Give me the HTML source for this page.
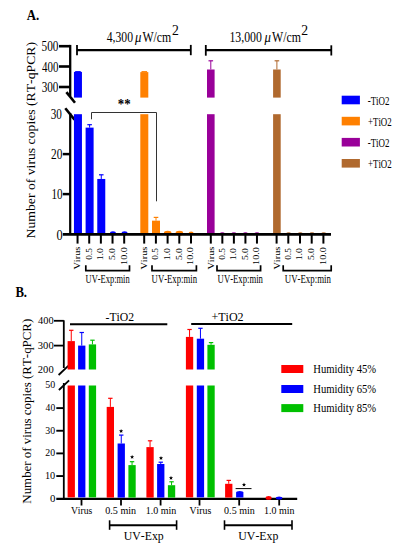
<!DOCTYPE html>
<html><head><meta charset="utf-8"><style>
html,body{margin:0;padding:0;background:#fff;width:399px;height:550px;overflow:hidden}
svg{display:block}
text{font-family:"Liberation Serif",serif;font-kerning:none}
</style></head><body>
<svg width="399" height="550" viewBox="0 0 399 550">
<rect width="399" height="550" fill="#fff"/>
<text transform="translate(26.67 19.50) scale(0.8984 1.0000)" font-size="14.30" font-weight="bold" fill="#000">A.</text>
<line x1="70.20" y1="44.90" x2="70.20" y2="96.00" stroke="#000" stroke-width="2.30" stroke-linecap="butt"/>
<line x1="70.20" y1="113.00" x2="70.20" y2="235.00" stroke="#000" stroke-width="2.20" stroke-linecap="butt"/>
<line x1="59.00" y1="46.20" x2="70.20" y2="46.20" stroke="#000" stroke-width="2.60" stroke-linecap="butt"/>
<text transform="translate(41.55 51.40) scale(0.8276 1.0000)" font-size="13.60" fill="#000">500</text>
<line x1="59.00" y1="66.50" x2="70.20" y2="66.50" stroke="#000" stroke-width="2.60" stroke-linecap="butt"/>
<text transform="translate(41.99 71.70) scale(0.8054 1.0000)" font-size="13.60" fill="#000">400</text>
<line x1="59.00" y1="87.00" x2="70.20" y2="87.00" stroke="#000" stroke-width="2.60" stroke-linecap="butt"/>
<text transform="translate(41.67 92.20) scale(0.8216 1.0000)" font-size="13.60" fill="#000">300</text>
<line x1="62.80" y1="154.10" x2="70.20" y2="154.10" stroke="#000" stroke-width="2.50" stroke-linecap="butt"/>
<line x1="62.80" y1="194.10" x2="70.20" y2="194.10" stroke="#000" stroke-width="2.50" stroke-linecap="butt"/>
<text transform="translate(50.77 119.10) scale(0.8205 1.0000)" font-size="13.60" fill="#000">30</text>
<text transform="translate(51.10 159.20) scale(0.8330 1.0000)" font-size="13.60" fill="#000">20</text>
<text transform="translate(51.52 199.20) scale(0.8160 1.0000)" font-size="13.60" fill="#000">10</text>
<text transform="translate(56.53 239.50) scale(0.9021 1.0000)" font-size="13.60" fill="#000">0</text>
<line x1="66.40" y1="92.10" x2="75.00" y2="102.70" stroke="#000" stroke-width="2.60" stroke-linecap="butt"/>
<line x1="65.30" y1="108.20" x2="74.50" y2="119.60" stroke="#000" stroke-width="2.60" stroke-linecap="butt"/>
<rect x="73.95" y="114.20" width="8.00" height="119.00" fill="#0000ff"/>
<rect x="85.61" y="127.63" width="8.00" height="105.57" fill="#0000ff"/>
<line x1="89.61" y1="124.70" x2="89.61" y2="127.63" stroke="#0000ff" stroke-width="1.00" stroke-linecap="butt"/>
<line x1="87.31" y1="124.70" x2="91.91" y2="124.70" stroke="#0000ff" stroke-width="1.20" stroke-linecap="butt"/>
<rect x="97.27" y="178.96" width="8.00" height="54.24" fill="#0000ff"/>
<line x1="101.27" y1="174.80" x2="101.27" y2="178.96" stroke="#0000ff" stroke-width="1.00" stroke-linecap="butt"/>
<line x1="98.97" y1="174.80" x2="103.57" y2="174.80" stroke="#0000ff" stroke-width="1.20" stroke-linecap="butt"/>
<ellipse cx="112.93" cy="233.20" rx="3.00" ry="2.00" fill="#0000ff"/>
<ellipse cx="124.59" cy="233.20" rx="3.00" ry="2.00" fill="#0000ff"/>
<rect x="140.30" y="114.20" width="8.00" height="119.00" fill="#ff8000"/>
<rect x="152.00" y="220.67" width="8.00" height="12.53" fill="#ff8000"/>
<line x1="156.00" y1="217.40" x2="156.00" y2="220.67" stroke="#ff8000" stroke-width="1.00" stroke-linecap="butt"/>
<line x1="153.70" y1="217.40" x2="158.30" y2="217.40" stroke="#ff8000" stroke-width="1.20" stroke-linecap="butt"/>
<ellipse cx="167.70" cy="233.20" rx="3.80" ry="2.40" fill="#ff8000"/>
<ellipse cx="179.40" cy="233.20" rx="3.80" ry="2.40" fill="#ff8000"/>
<ellipse cx="191.10" cy="233.20" rx="2.50" ry="1.60" fill="#ff8000"/>
<rect x="207.00" y="114.20" width="7.60" height="119.00" fill="#990099"/>
<ellipse cx="222.34" cy="233.20" rx="2.30" ry="1.00" fill="#990099"/>
<ellipse cx="233.88" cy="233.20" rx="2.30" ry="1.00" fill="#990099"/>
<ellipse cx="245.42" cy="233.20" rx="2.30" ry="1.00" fill="#990099"/>
<ellipse cx="256.96" cy="233.20" rx="2.30" ry="1.00" fill="#990099"/>
<rect x="273.10" y="114.20" width="7.60" height="119.00" fill="#b0692e"/>
<ellipse cx="288.60" cy="233.20" rx="2.30" ry="1.00" fill="#b0692e"/>
<ellipse cx="300.30" cy="233.20" rx="2.30" ry="1.00" fill="#b0692e"/>
<ellipse cx="312.00" cy="233.20" rx="2.30" ry="1.00" fill="#b0692e"/>
<ellipse cx="323.70" cy="233.20" rx="2.30" ry="1.00" fill="#b0692e"/>
<rect x="73.95" y="71.90" width="8.00" height="25.70" fill="#0000ff"/>
<rect x="75.15" y="71.10" width="5.60" height="1.20" fill="#0000ff"/>
<rect x="140.30" y="72.10" width="8.00" height="25.50" fill="#ff8000"/>
<rect x="141.50" y="71.10" width="5.60" height="1.20" fill="#ff8000"/>
<rect x="207.00" y="69.50" width="7.60" height="28.10" fill="#990099"/>
<line x1="210.80" y1="60.80" x2="210.80" y2="69.50" stroke="#990099" stroke-width="1.00" stroke-linecap="butt"/>
<line x1="208.50" y1="60.80" x2="213.10" y2="60.80" stroke="#990099" stroke-width="1.20" stroke-linecap="butt"/>
<rect x="273.10" y="69.50" width="7.60" height="28.10" fill="#b0692e"/>
<line x1="276.90" y1="60.80" x2="276.90" y2="69.50" stroke="#b0692e" stroke-width="1.00" stroke-linecap="butt"/>
<line x1="274.60" y1="60.80" x2="279.20" y2="60.80" stroke="#b0692e" stroke-width="1.20" stroke-linecap="butt"/>
<line x1="62.80" y1="234.30" x2="331.00" y2="234.30" stroke="#000" stroke-width="2.80" stroke-linecap="butt"/>
<line x1="77.55" y1="235.00" x2="77.55" y2="243.60" stroke="#000" stroke-width="2.00" stroke-linecap="butt"/>
<line x1="89.21" y1="235.00" x2="89.21" y2="243.60" stroke="#000" stroke-width="2.00" stroke-linecap="butt"/>
<line x1="100.87" y1="235.00" x2="100.87" y2="243.60" stroke="#000" stroke-width="2.00" stroke-linecap="butt"/>
<line x1="112.53" y1="235.00" x2="112.53" y2="243.60" stroke="#000" stroke-width="2.00" stroke-linecap="butt"/>
<line x1="124.19" y1="235.00" x2="124.19" y2="243.60" stroke="#000" stroke-width="2.00" stroke-linecap="butt"/>
<line x1="144.20" y1="235.00" x2="144.20" y2="243.60" stroke="#000" stroke-width="2.00" stroke-linecap="butt"/>
<line x1="155.90" y1="235.00" x2="155.90" y2="243.60" stroke="#000" stroke-width="2.00" stroke-linecap="butt"/>
<line x1="167.60" y1="235.00" x2="167.60" y2="243.60" stroke="#000" stroke-width="2.00" stroke-linecap="butt"/>
<line x1="179.30" y1="235.00" x2="179.30" y2="243.60" stroke="#000" stroke-width="2.00" stroke-linecap="butt"/>
<line x1="191.00" y1="235.00" x2="191.00" y2="243.60" stroke="#000" stroke-width="2.00" stroke-linecap="butt"/>
<line x1="210.80" y1="235.00" x2="210.80" y2="243.60" stroke="#000" stroke-width="2.00" stroke-linecap="butt"/>
<line x1="222.34" y1="235.00" x2="222.34" y2="243.60" stroke="#000" stroke-width="2.00" stroke-linecap="butt"/>
<line x1="233.88" y1="235.00" x2="233.88" y2="243.60" stroke="#000" stroke-width="2.00" stroke-linecap="butt"/>
<line x1="245.42" y1="235.00" x2="245.42" y2="243.60" stroke="#000" stroke-width="2.00" stroke-linecap="butt"/>
<line x1="256.96" y1="235.00" x2="256.96" y2="243.60" stroke="#000" stroke-width="2.00" stroke-linecap="butt"/>
<line x1="276.60" y1="235.00" x2="276.60" y2="243.60" stroke="#000" stroke-width="2.00" stroke-linecap="butt"/>
<line x1="288.30" y1="235.00" x2="288.30" y2="243.60" stroke="#000" stroke-width="2.00" stroke-linecap="butt"/>
<line x1="300.00" y1="235.00" x2="300.00" y2="243.60" stroke="#000" stroke-width="2.00" stroke-linecap="butt"/>
<line x1="311.70" y1="235.00" x2="311.70" y2="243.60" stroke="#000" stroke-width="2.00" stroke-linecap="butt"/>
<line x1="323.40" y1="235.00" x2="323.40" y2="243.60" stroke="#000" stroke-width="2.00" stroke-linecap="butt"/>
<text transform="translate(80.45 269.62) rotate(-90) scale(1.0143 0.8000)" font-size="10.20" fill="#000">Virus</text>
<text transform="translate(91.61 259.86) rotate(-90) scale(0.9195 0.8000)" font-size="10.20" fill="#000">0.5</text>
<text transform="translate(103.27 260.36) rotate(-90) scale(0.9594 0.8000)" font-size="10.20" fill="#000">1.0</text>
<text transform="translate(114.93 260.05) rotate(-90) scale(0.9347 0.8000)" font-size="10.20" fill="#000">5.0</text>
<text transform="translate(126.59 264.89) rotate(-90) scale(0.9961 0.8000)" font-size="10.20" fill="#000">10.0</text>
<text transform="translate(147.10 269.62) rotate(-90) scale(1.0143 0.8000)" font-size="10.20" fill="#000">Virus</text>
<text transform="translate(158.30 259.86) rotate(-90) scale(0.9195 0.8000)" font-size="10.20" fill="#000">0.5</text>
<text transform="translate(170.00 260.36) rotate(-90) scale(0.9594 0.8000)" font-size="10.20" fill="#000">1.0</text>
<text transform="translate(181.70 260.05) rotate(-90) scale(0.9347 0.8000)" font-size="10.20" fill="#000">5.0</text>
<text transform="translate(193.40 264.89) rotate(-90) scale(0.9961 0.8000)" font-size="10.20" fill="#000">10.0</text>
<text transform="translate(213.70 269.62) rotate(-90) scale(1.0143 0.8000)" font-size="10.20" fill="#000">Virus</text>
<text transform="translate(224.74 259.86) rotate(-90) scale(0.9195 0.8000)" font-size="10.20" fill="#000">0.5</text>
<text transform="translate(236.28 260.36) rotate(-90) scale(0.9594 0.8000)" font-size="10.20" fill="#000">1.0</text>
<text transform="translate(247.82 260.05) rotate(-90) scale(0.9347 0.8000)" font-size="10.20" fill="#000">5.0</text>
<text transform="translate(259.36 264.89) rotate(-90) scale(0.9961 0.8000)" font-size="10.20" fill="#000">10.0</text>
<text transform="translate(279.50 269.62) rotate(-90) scale(1.0143 0.8000)" font-size="10.20" fill="#000">Virus</text>
<text transform="translate(290.70 259.86) rotate(-90) scale(0.9195 0.8000)" font-size="10.20" fill="#000">0.5</text>
<text transform="translate(302.40 260.36) rotate(-90) scale(0.9594 0.8000)" font-size="10.20" fill="#000">1.0</text>
<text transform="translate(314.10 260.05) rotate(-90) scale(0.9347 0.8000)" font-size="10.20" fill="#000">5.0</text>
<text transform="translate(325.80 264.89) rotate(-90) scale(0.9961 0.8000)" font-size="10.20" fill="#000">10.0</text>
<path d="M85.80 265.2 V270.6 H129.50 V265.2" fill="none" stroke="#000" stroke-width="1.7"/>
<text transform="translate(85.52 282.80) scale(0.7055 1.0000)" font-size="12.00" fill="#000">UV-Exp:min</text>
<path d="M152.00 265.2 V270.6 H196.40 V265.2" fill="none" stroke="#000" stroke-width="1.7"/>
<text transform="translate(151.62 282.80) scale(0.7248 1.0000)" font-size="12.00" fill="#000">UV-Exp:min</text>
<path d="M217.00 265.2 V270.6 H260.60 V265.2" fill="none" stroke="#000" stroke-width="1.7"/>
<text transform="translate(217.62 282.80) scale(0.7232 1.0000)" font-size="12.00" fill="#000">UV-Exp:min</text>
<path d="M283.20 265.2 V270.6 H331.20 V265.2" fill="none" stroke="#000" stroke-width="1.7"/>
<text transform="translate(284.81 282.80) scale(0.7360 1.0000)" font-size="12.00" fill="#000">UV-Exp:min</text>
<path d="M91.5 119.3 V112.5 H156.5 V201.3" fill="none" stroke="#333" stroke-width="1"/>
<text transform="translate(117.77 108.60) scale(0.8579 1.0000)" font-size="15.00" font-weight="bold" fill="#000">**</text>
<line x1="77.00" y1="50.10" x2="191.00" y2="50.10" stroke="#000" stroke-width="2.30" stroke-linecap="butt"/>
<line x1="77.00" y1="44.90" x2="77.00" y2="55.30" stroke="#000" stroke-width="1.80" stroke-linecap="butt"/>
<line x1="190.80" y1="44.90" x2="190.80" y2="55.20" stroke="#000" stroke-width="1.80" stroke-linecap="butt"/>
<line x1="205.80" y1="50.10" x2="331.50" y2="50.10" stroke="#000" stroke-width="2.30" stroke-linecap="butt"/>
<line x1="205.80" y1="45.00" x2="205.80" y2="55.70" stroke="#000" stroke-width="1.80" stroke-linecap="butt"/>
<line x1="331.30" y1="45.30" x2="331.30" y2="55.50" stroke="#000" stroke-width="1.80" stroke-linecap="butt"/>
<text transform="translate(106.77 41.60) scale(0.8586 1.0000)" font-size="13.60" fill="#000">4,300</text>
<text transform="translate(135.01 41.60) scale(0.9392 1.0000)" font-size="13.60" font-style="italic" fill="#000">μ</text>
<text transform="translate(142.39 41.60) scale(0.8696 1.0000)" font-size="13.60" fill="#000">W/cm</text>
<text transform="translate(171.90 34.60) scale(1.0088 1.0000)" font-size="13.60" fill="#000">2</text>
<text transform="translate(229.46 41.80) scale(0.8687 1.0000)" font-size="13.60" fill="#000">13,000</text>
<text transform="translate(264.61 41.80) scale(0.9392 1.0000)" font-size="13.60" font-style="italic" fill="#000">μ</text>
<text transform="translate(271.99 41.80) scale(0.8696 1.0000)" font-size="13.60" fill="#000">W/cm</text>
<text transform="translate(301.20 34.70) scale(1.0088 1.0000)" font-size="13.60" fill="#000">2</text>
<text transform="translate(34.90 238.39) rotate(-90) scale(1.0082 0.8500)" font-size="13.60" fill="#000">Number of virus copies (RT-qPCR)</text>
<rect x="341.70" y="95.70" width="18.20" height="8.60" fill="#0000ff"/>
<text transform="translate(367.67 104.70) scale(0.7442 1.0000)" font-size="12.00" fill="#000">-TiO2</text>
<rect x="341.70" y="116.80" width="18.20" height="8.60" fill="#ff8000"/>
<text transform="translate(367.96 125.80) scale(0.7394 1.0000)" font-size="12.00" fill="#000">+TiO2</text>
<rect x="341.70" y="137.90" width="18.20" height="8.60" fill="#990099"/>
<text transform="translate(367.67 146.90) scale(0.7442 1.0000)" font-size="12.00" fill="#000">-TiO2</text>
<rect x="341.70" y="159.00" width="18.20" height="8.60" fill="#b0692e"/>
<text transform="translate(367.96 168.00) scale(0.7394 1.0000)" font-size="12.00" fill="#000">+TiO2</text>
<text transform="translate(15.39 297.00) scale(0.9358 1.0000)" font-size="13.60" font-weight="bold" fill="#000">B.</text>
<line x1="63.80" y1="320.30" x2="63.80" y2="368.00" stroke="#000" stroke-width="1.80" stroke-linecap="butt"/>
<line x1="63.80" y1="383.00" x2="63.80" y2="499.00" stroke="#000" stroke-width="1.80" stroke-linecap="butt"/>
<line x1="54.00" y1="320.80" x2="63.80" y2="320.80" stroke="#000" stroke-width="1.80" stroke-linecap="butt"/>
<line x1="54.00" y1="345.60" x2="63.80" y2="345.60" stroke="#000" stroke-width="1.80" stroke-linecap="butt"/>
<text transform="translate(38.10 323.70) scale(1.1182 1.0000)" font-size="9.30" fill="#000">400</text>
<text transform="translate(37.79 348.50) scale(1.1406 1.0000)" font-size="9.30" fill="#000">300</text>
<text transform="translate(37.84 373.10) scale(1.1375 1.0000)" font-size="9.30" fill="#000">200</text>
<line x1="56.30" y1="408.10" x2="63.80" y2="408.10" stroke="#000" stroke-width="1.90" stroke-linecap="butt"/>
<line x1="56.30" y1="430.75" x2="63.80" y2="430.75" stroke="#000" stroke-width="1.90" stroke-linecap="butt"/>
<line x1="56.30" y1="453.40" x2="63.80" y2="453.40" stroke="#000" stroke-width="1.90" stroke-linecap="butt"/>
<line x1="56.30" y1="476.05" x2="63.80" y2="476.05" stroke="#000" stroke-width="1.90" stroke-linecap="butt"/>
<text transform="translate(45.22 387.75) scale(1.0707 1.0000)" font-size="9.30" fill="#000">50</text>
<text transform="translate(45.61 410.90) scale(1.0269 1.0000)" font-size="9.30" fill="#000">40</text>
<text transform="translate(45.33 433.55) scale(1.0587 1.0000)" font-size="9.30" fill="#000">30</text>
<text transform="translate(45.37 456.20) scale(1.0542 1.0000)" font-size="9.30" fill="#000">20</text>
<text transform="translate(44.89 478.85) scale(1.1072 1.0000)" font-size="9.30" fill="#000">10</text>
<text transform="translate(49.99 501.60) scale(1.1670 1.0000)" font-size="9.30" fill="#000">0</text>
<line x1="58.60" y1="375.00" x2="68.80" y2="365.30" stroke="#000" stroke-width="1.80" stroke-linecap="butt"/>
<line x1="58.90" y1="390.00" x2="69.10" y2="380.30" stroke="#000" stroke-width="1.80" stroke-linecap="butt"/>
<line x1="56.30" y1="498.90" x2="297.20" y2="498.90" stroke="#000" stroke-width="2.40" stroke-linecap="butt"/>
<line x1="81.50" y1="499.50" x2="81.50" y2="505.50" stroke="#000" stroke-width="1.80" stroke-linecap="butt"/>
<line x1="121.00" y1="499.50" x2="121.00" y2="505.50" stroke="#000" stroke-width="1.80" stroke-linecap="butt"/>
<line x1="160.60" y1="499.50" x2="160.60" y2="505.50" stroke="#000" stroke-width="1.80" stroke-linecap="butt"/>
<line x1="199.50" y1="499.50" x2="199.50" y2="505.50" stroke="#000" stroke-width="1.80" stroke-linecap="butt"/>
<line x1="239.20" y1="499.50" x2="239.20" y2="505.50" stroke="#000" stroke-width="1.80" stroke-linecap="butt"/>
<line x1="279.20" y1="499.50" x2="279.20" y2="505.50" stroke="#000" stroke-width="1.80" stroke-linecap="butt"/>
<rect x="67.60" y="341.10" width="7.30" height="28.40" fill="#ff0000"/>
<line x1="71.25" y1="330.30" x2="71.25" y2="341.10" stroke="#ff0000" stroke-width="1.00" stroke-linecap="butt"/>
<line x1="69.05" y1="330.30" x2="73.45" y2="330.30" stroke="#ff0000" stroke-width="1.20" stroke-linecap="butt"/>
<rect x="67.60" y="385.50" width="7.30" height="111.90" fill="#ff0000"/>
<rect x="78.10" y="345.60" width="7.30" height="23.90" fill="#0000ff"/>
<line x1="81.75" y1="332.50" x2="81.75" y2="345.60" stroke="#0000ff" stroke-width="1.00" stroke-linecap="butt"/>
<line x1="79.55" y1="332.50" x2="83.95" y2="332.50" stroke="#0000ff" stroke-width="1.20" stroke-linecap="butt"/>
<rect x="78.10" y="385.50" width="7.30" height="111.90" fill="#0000ff"/>
<rect x="88.80" y="344.40" width="7.30" height="25.10" fill="#00c000"/>
<line x1="92.45" y1="340.20" x2="92.45" y2="344.40" stroke="#00c000" stroke-width="1.00" stroke-linecap="butt"/>
<line x1="90.25" y1="340.20" x2="94.65" y2="340.20" stroke="#00c000" stroke-width="1.20" stroke-linecap="butt"/>
<rect x="88.80" y="385.50" width="7.30" height="111.90" fill="#00c000"/>
<rect x="185.90" y="336.90" width="7.30" height="32.60" fill="#ff0000"/>
<line x1="189.55" y1="329.50" x2="189.55" y2="336.90" stroke="#ff0000" stroke-width="1.00" stroke-linecap="butt"/>
<line x1="187.35" y1="329.50" x2="191.75" y2="329.50" stroke="#ff0000" stroke-width="1.20" stroke-linecap="butt"/>
<rect x="185.90" y="385.50" width="7.30" height="111.90" fill="#ff0000"/>
<rect x="196.80" y="338.70" width="7.30" height="30.80" fill="#0000ff"/>
<line x1="200.45" y1="328.30" x2="200.45" y2="338.70" stroke="#0000ff" stroke-width="1.00" stroke-linecap="butt"/>
<line x1="198.25" y1="328.30" x2="202.65" y2="328.30" stroke="#0000ff" stroke-width="1.20" stroke-linecap="butt"/>
<rect x="196.80" y="385.50" width="7.30" height="111.90" fill="#0000ff"/>
<rect x="207.40" y="344.80" width="7.30" height="24.70" fill="#00c000"/>
<line x1="211.05" y1="342.60" x2="211.05" y2="344.80" stroke="#00c000" stroke-width="1.00" stroke-linecap="butt"/>
<line x1="208.85" y1="342.60" x2="213.25" y2="342.60" stroke="#00c000" stroke-width="1.20" stroke-linecap="butt"/>
<rect x="207.40" y="385.50" width="7.30" height="111.90" fill="#00c000"/>
<rect x="106.70" y="406.90" width="7.30" height="90.70" fill="#ff0000"/>
<line x1="110.35" y1="398.30" x2="110.35" y2="406.90" stroke="#ff0000" stroke-width="1.00" stroke-linecap="butt"/>
<line x1="108.15" y1="398.30" x2="112.55" y2="398.30" stroke="#ff0000" stroke-width="1.20" stroke-linecap="butt"/>
<rect x="117.60" y="443.50" width="7.30" height="54.10" fill="#0000ff"/>
<line x1="121.25" y1="435.10" x2="121.25" y2="443.50" stroke="#0000ff" stroke-width="1.00" stroke-linecap="butt"/>
<line x1="119.05" y1="435.10" x2="123.45" y2="435.10" stroke="#0000ff" stroke-width="1.20" stroke-linecap="butt"/>
<rect x="128.40" y="465.10" width="7.30" height="32.50" fill="#00c000"/>
<line x1="132.05" y1="461.70" x2="132.05" y2="465.10" stroke="#00c000" stroke-width="1.00" stroke-linecap="butt"/>
<line x1="129.85" y1="461.70" x2="134.25" y2="461.70" stroke="#00c000" stroke-width="1.20" stroke-linecap="butt"/>
<rect x="146.40" y="447.10" width="7.30" height="50.50" fill="#ff0000"/>
<line x1="150.05" y1="440.80" x2="150.05" y2="447.10" stroke="#ff0000" stroke-width="1.00" stroke-linecap="butt"/>
<line x1="147.85" y1="440.80" x2="152.25" y2="440.80" stroke="#ff0000" stroke-width="1.20" stroke-linecap="butt"/>
<rect x="157.10" y="464.00" width="7.30" height="33.60" fill="#0000ff"/>
<line x1="160.75" y1="462.20" x2="160.75" y2="464.00" stroke="#0000ff" stroke-width="1.00" stroke-linecap="butt"/>
<line x1="158.55" y1="462.20" x2="162.95" y2="462.20" stroke="#0000ff" stroke-width="1.20" stroke-linecap="butt"/>
<rect x="167.90" y="485.20" width="7.30" height="12.40" fill="#00c000"/>
<line x1="171.55" y1="481.80" x2="171.55" y2="485.20" stroke="#00c000" stroke-width="1.00" stroke-linecap="butt"/>
<line x1="169.35" y1="481.80" x2="173.75" y2="481.80" stroke="#00c000" stroke-width="1.20" stroke-linecap="butt"/>
<rect x="225.10" y="483.80" width="7.30" height="13.80" fill="#ff0000"/>
<line x1="228.75" y1="480.40" x2="228.75" y2="483.80" stroke="#ff0000" stroke-width="1.00" stroke-linecap="butt"/>
<line x1="226.55" y1="480.40" x2="230.95" y2="480.40" stroke="#ff0000" stroke-width="1.20" stroke-linecap="butt"/>
<path d="M236.1 497.60 V492.6 Q236.1 491 239.75 491 Q243.4 491 243.4 492.6 V497.60 Z" fill="#0000ff"/>
<ellipse cx="268.6" cy="497.90" rx="3.0" ry="1.9" fill="#ff0000"/>
<ellipse cx="279.1" cy="497.90" rx="3.2" ry="1.5" fill="#0000ff"/>
<polygon points="121.10,428.90 121.66,430.33 123.19,430.42 122.00,431.39 122.39,432.88 121.10,432.05 119.81,432.88 120.20,431.39 119.01,430.42 120.54,430.33" fill="#000"/>
<polygon points="132.10,454.80 132.66,456.23 134.19,456.32 133.00,457.29 133.39,458.78 132.10,457.95 130.81,458.78 131.20,457.29 130.01,456.32 131.54,456.23" fill="#000"/>
<polygon points="161.00,455.90 161.56,457.33 163.09,457.42 161.90,458.39 162.29,459.88 161.00,459.05 159.71,459.88 160.10,458.39 158.91,457.42 160.44,457.33" fill="#000"/>
<polygon points="171.00,475.80 171.56,477.23 173.09,477.32 171.90,478.29 172.29,479.78 171.00,478.95 169.71,479.78 170.10,478.29 168.91,477.32 170.44,477.23" fill="#000"/>
<polygon points="244.00,482.50 244.56,483.93 246.09,484.02 244.90,484.99 245.29,486.48 244.00,485.65 242.71,486.48 243.10,484.99 241.91,484.02 243.44,483.93" fill="#000"/>
<line x1="235.60" y1="488.60" x2="251.50" y2="488.60" stroke="#000" stroke-width="1.00" stroke-linecap="butt"/>
<text transform="translate(70.89 514.30) scale(1.0058 1.0000)" font-size="9.60" fill="#000">Virus</text>
<text transform="translate(105.21 514.20) scale(1.0547 1.0000)" font-size="9.60" fill="#000">0.5 min</text>
<text transform="translate(145.72 514.20) scale(1.0443 1.0000)" font-size="9.60" fill="#000">1.0 min</text>
<text transform="translate(189.49 514.30) scale(1.0250 1.0000)" font-size="9.60" fill="#000">Virus</text>
<text transform="translate(224.12 514.20) scale(1.0443 1.0000)" font-size="9.60" fill="#000">0.5 min</text>
<text transform="translate(263.92 514.20) scale(1.0407 1.0000)" font-size="9.60" fill="#000">1.0 min</text>
<line x1="109.60" y1="525.30" x2="176.60" y2="525.30" stroke="#000" stroke-width="2.00" stroke-linecap="butt"/>
<line x1="109.60" y1="520.30" x2="109.60" y2="529.80" stroke="#000" stroke-width="1.60" stroke-linecap="butt"/>
<line x1="176.60" y1="520.30" x2="176.60" y2="529.80" stroke="#000" stroke-width="1.60" stroke-linecap="butt"/>
<text transform="translate(123.75 539.50) scale(0.9225 1.0000)" font-size="12.80" fill="#000">UV-Exp</text>
<line x1="224.50" y1="525.30" x2="292.00" y2="525.30" stroke="#000" stroke-width="2.00" stroke-linecap="butt"/>
<line x1="224.50" y1="520.30" x2="224.50" y2="529.80" stroke="#000" stroke-width="1.60" stroke-linecap="butt"/>
<line x1="292.00" y1="520.30" x2="292.00" y2="529.80" stroke="#000" stroke-width="1.60" stroke-linecap="butt"/>
<text transform="translate(238.35 539.50) scale(0.9225 1.0000)" font-size="12.80" fill="#000">UV-Exp</text>
<line x1="70.00" y1="324.30" x2="167.30" y2="324.30" stroke="#000" stroke-width="2.00" stroke-linecap="butt"/>
<text transform="translate(105.57 321.00) scale(0.9586 1.0000)" font-size="12.20" fill="#000">-TiO2</text>
<line x1="191.20" y1="323.90" x2="292.20" y2="323.90" stroke="#000" stroke-width="2.00" stroke-linecap="butt"/>
<text transform="translate(211.40 320.50) scale(0.9888 1.0000)" font-size="12.20" fill="#000">+TiO2</text>
<text transform="translate(31.30 503.67) rotate(-90) scale(0.9499 0.9200)" font-size="13.60" fill="#000">Number of virus copies (RT-qPCR)</text>
<rect x="281.30" y="365.00" width="22.00" height="8.00" fill="#ff0000"/>
<text transform="translate(313.29 373.00) scale(0.8583 1.0000)" font-size="12.40" fill="#000">Humidity 45%</text>
<rect x="281.30" y="385.00" width="22.00" height="8.00" fill="#0000ff"/>
<text transform="translate(313.29 392.90) scale(0.8583 1.0000)" font-size="12.40" fill="#000">Humidity 65%</text>
<rect x="281.30" y="404.10" width="22.00" height="8.00" fill="#00c000"/>
<text transform="translate(313.29 412.00) scale(0.8583 1.0000)" font-size="12.40" fill="#000">Humidity 85%</text>
</svg>
</body></html>
